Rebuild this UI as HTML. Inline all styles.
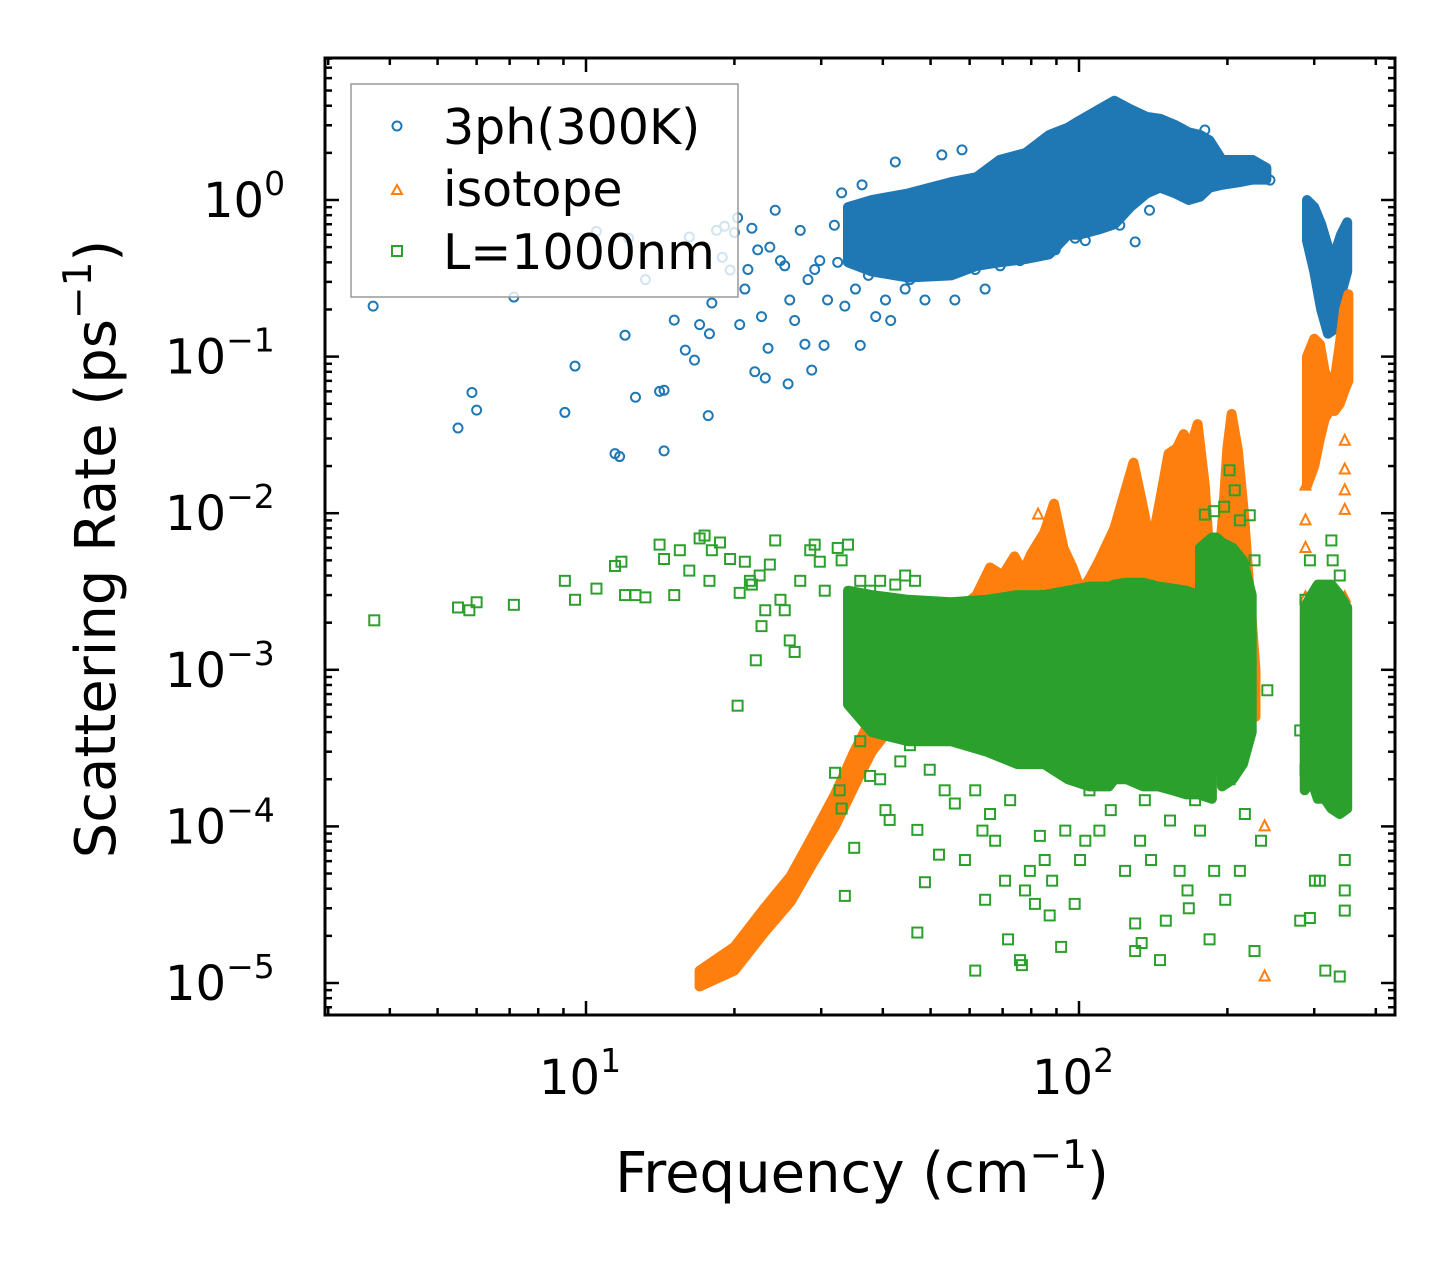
<!DOCTYPE html>
<html><head><meta charset="utf-8"><style>
html,body{margin:0;padding:0;background:#fff;}
svg{display:block;font-family:"DejaVu Sans","Liberation Sans",sans-serif;}
</style></head><body>
<svg id="chart" width="1455" height="1265" viewBox="0 0 1455 1265" xmlns="http://www.w3.org/2000/svg">
<rect width="1455" height="1265" fill="#fff"/>
<defs><clipPath id="pc"><rect x="325" y="58" width="1070" height="957"/></clipPath></defs>
<g id="marks" clip-path="url(#pc)"></g>
<g id="axes"></g>
<text x="862" y="1192" font-size="56" text-anchor="middle">Frequency (cm<tspan dy="-24" font-size="39">−1</tspan><tspan dy="24">)</tspan></text>
<text transform="translate(115,549) rotate(-90)" font-size="56" text-anchor="middle">Scattering Rate (ps<tspan dy="-24" font-size="39">−1</tspan><tspan dy="24">)</tspan></text>
<g>
<rect x="351" y="84" width="387" height="213" fill="rgba(255,255,255,0.8)" stroke="#999" stroke-width="1.5"/>
<circle cx="397" cy="126" r="4.5" fill="none" stroke="#1f77b4" stroke-width="2"/>
<text x="443" y="144" font-size="49">3ph(300K)</text>
<polygon points="397,185 402,194 392,194" fill="none" stroke="#ff7f0e" stroke-width="2"/>
<text x="443" y="206" font-size="49">isotope</text>
<rect x="392" y="246" width="10" height="10" fill="none" stroke="#2ca02c" stroke-width="2"/>
<text x="443" y="269" font-size="49">L=1000nm</text>
</g>
</svg>
<script>
// ---- data ----
const blueF=[3.7,5.5,5.87,6.0,7.14,9.06,9.5,10.5,11.45,11.7,12.0,12.2,12.6,13.2,14.1,14.4,14.4,15.1,15.9,16.2,16.6,17.0,17.7,17.8,18.0,18.4,18.9,19.1,19.6,20.0,20.3,20.5,21.0,21.3,21.7,22.0,22.3,22.7,23.1,23.4,23.6,24.2,24.8,25.3,25.7,25.9,26.5,27.2,27.8,28.2,28.7,29.1,29.8,30.4,30.9,31.9,32.4,33.0,33.5,34.3,35.2,36.0,36.3,37.4,38.7,39.5,40.5,41.5,42.4,43.4,44.4,45.4,46.5,48.7,50.3,52.7,54.7,56.0,57.9,60.2,61.6,64.5,66.5,69.2,72.5,75.9,79.5,82.6,85.8,89.5,93.8,98.2,103,108,117,121,130,139,150,157,180,184,222,244];
const blueR=[0.21,0.035,0.059,0.0455,0.24,0.044,0.087,0.63,0.024,0.023,0.137,0.57,0.055,0.31,0.06,0.061,0.025,0.171,0.11,0.58,0.095,0.16,0.042,0.14,0.22,0.64,0.43,0.68,0.357,0.62,0.77,0.16,0.27,0.36,0.66,0.08,0.48,0.18,0.073,0.113,0.5,0.86,0.41,0.38,0.067,0.23,0.17,0.64,0.12,0.31,0.082,0.36,0.41,0.118,0.23,0.69,0.40,1.11,0.21,0.8,0.27,0.118,1.25,0.33,0.18,0.48,0.23,0.17,1.75,0.52,0.27,0.31,0.41,0.23,0.55,1.94,0.55,0.23,2.09,0.41,0.36,0.27,1.44,0.38,0.44,0.41,0.86,0.48,0.62,0.48,0.69,0.57,0.55,0.69,0.8,0.69,0.54,0.86,1.34,1.55,2.8,2.09,1.67,1.34];
const blueBandF=[34,38,45,55,62,69,78,87,95,100,110,118,127,137,146,157,167,176,184,195,211,225,240];
const blueBandHi=[0.9,1.0,1.1,1.3,1.4,1.8,2.0,2.6,2.9,3.2,3.8,4.3,3.8,3.4,3.3,3.0,2.7,2.6,2.4,1.8,1.8,1.8,1.6];
const blueBandLo=[0.4,0.35,0.32,0.33,0.38,0.4,0.42,0.45,0.6,0.6,0.65,0.7,0.9,1.1,1.2,1.1,1.0,1.05,1.2,1.25,1.3,1.35,1.35];
const blueBand2F=[290,300,310,320,330,340,350];
const blueBand2Hi=[1.0,0.9,0.7,0.5,0.45,0.6,0.72];
const blueBand2Lo=[0.55,0.35,0.2,0.14,0.15,0.25,0.35];

const isoBandF=[17,20,23,26,29,32,35,38,42,45,55,62,66,70,74,77,80,85,89,93,97,101,105,110,118,125,129,134,140,146,152,158,163,168,174,180,185,190,196,200,204,210,216,222,228];
const isoBandHi=[1.2e-5,1.7e-5,3e-5,4.8e-5,9e-5,1.6e-4,3e-4,5e-4,9e-4,1.2e-3,2.2e-3,3e-3,4.5e-3,4e-3,5.3e-3,4.2e-3,5.5e-3,7.5e-3,1.15e-2,6e-3,4.5e-3,3.2e-3,3.8e-3,5e-3,8e-3,1.5e-2,2.1e-2,1.2e-2,6e-3,1.2e-2,2.4e-2,2.6e-2,3.2e-2,2.6e-2,3.7e-2,1.5e-2,4e-3,3e-3,1e-2,2.6e-2,4.3e-2,2.5e-2,1e-2,3e-3,1e-3];
const isoBandLo=[9.5e-6,1.2e-5,2.1e-5,3.3e-5,6e-5,1e-4,1.8e-4,3e-4,4.5e-4,5e-4,5e-4,5e-4,5e-4,5e-4,5e-4,5e-4,5e-4,5e-4,5e-4,5e-4,5e-4,5e-4,5e-4,5e-4,5e-4,5e-4,5e-4,5e-4,5e-4,5e-4,5e-4,5e-4,5e-4,5e-4,5e-4,5e-4,5e-4,5e-4,5e-4,5e-4,5e-4,5e-4,5e-4,5e-4,5e-4];
const isoBand2F=[290,300,308,315,322,330,338,345,352];
const isoBand2Hi=[0.1,0.13,0.12,0.08,0.07,0.07,0.12,0.2,0.25];
const isoBand2Lo=[0.015,0.02,0.03,0.04,0.045,0.045,0.05,0.06,0.07];
const isoF=[238,238,288,288,288,288,346,346,346,346,346,82.6,205];
const isoR=[1.0e-4,1.1e-5,9e-3,6e-3,2.9e-3,0.015,0.029,0.019,0.014,0.0105,2.9e-3,9.8e-3,5e-3];

const bndF=[3.72,5.5,5.8,6.0,7.14,9.06,9.5,10.5,11.45,11.8,12.0,12.6,13.2,14.1,14.4,15.1,15.5,16.2,17.0,17.4,17.8,18.0,18.7,19.6,20.3,20.5,21.0,21.5,21.7,22.1,22.5,22.7,23.1,23.6,24.2,24.8,25.3,25.9,26.5,27.2,28.5,29.1,29.8,30.5,32.4,33.0,34.0,35.2,36.0,37.7,39.5,42.4,44.4,46.5,32,33,35,33.5,41.3,47,47,52,
32.7,36.0,37.7,39.5,40.5,43.4,45.4,48.7,49.8,53.4,56,58.7,61.6,63.7,64.5,66,67.6,70.8,72.5,75.9,77.7,79.5,81.4,83.3,85.2,88.2,93.8,96.9,100.5,103,105,110,116,121,124,130,133,136,140,146,150,153,160,166,172,176,184,198,212,217,227,234,241,212,222,227,202,207,193,217,281,294,301,308,316,338,346,346,281,288,288,294,338,346,76.6,92,98,130,146,134,167,188,202,87.2,61.6,71.8,325,327,180,188,197];
const bndR=[2.07e-3,2.5e-3,2.4e-3,2.7e-3,2.6e-3,3.7e-3,2.8e-3,3.3e-3,4.6e-3,4.9e-3,3.0e-3,3.0e-3,2.9e-3,6.3e-3,5.1e-3,3.0e-3,5.8e-3,4.3e-3,6.9e-3,7.2e-3,3.7e-3,5.8e-3,6.5e-3,5.1e-3,5.9e-4,3.1e-3,4.9e-3,3.7e-3,3.5e-3,1.15e-3,4.0e-3,1.9e-3,2.4e-3,4.7e-3,6.7e-3,2.8e-3,2.4e-3,1.54e-3,1.3e-3,3.7e-3,5.8e-3,6.3e-3,4.9e-3,3.2e-3,6.0e-3,5.0e-3,6.3e-3,2.8e-3,3.7e-3,3.2e-3,3.7e-3,3.5e-3,4.0e-3,3.7e-3,2.2e-4,1.3e-4,7.3e-5,3.6e-5,1.1e-4,9.5e-5,2.1e-5,6.6e-5,
1.7e-4,3.5e-4,2.1e-4,2.0e-4,1.27e-4,2.6e-4,3.3e-4,4.4e-5,2.3e-4,1.7e-4,1.4e-4,6.1e-5,1.7e-4,9.4e-5,3.4e-5,1.2e-4,8.1e-5,4.5e-5,1.47e-4,1.4e-5,3.9e-5,5.2e-5,3.2e-5,8.7e-5,6.1e-5,4.5e-5,9.4e-5,2.5e-4,6.1e-5,8.1e-5,1.7e-4,9.4e-5,1.27e-4,2.3e-4,5.2e-5,2.4e-5,8.1e-5,1.47e-4,6.1e-5,2.3e-4,2.5e-5,1.09e-4,5.2e-5,3.9e-5,1.47e-4,9.4e-5,1.9e-5,3.4e-5,5.2e-5,1.2e-4,1.6e-5,8.1e-5,7.4e-4,9e-3,9.7e-3,5e-3,0.0188,0.014,6.4e-4,3.5e-4,2.5e-5,2.6e-5,4.5e-5,4.5e-5,1.2e-5,1.1e-5,2.9e-5,3.9e-5,4.1e-4,2.3e-4,2.8e-3,5e-3,4e-3,6.1e-5,1.3e-5,1.7e-5,3.2e-5,1.6e-5,1.4e-5,1.8e-5,3e-5,5.2e-5,2e-4,2.7e-5,1.2e-5,1.9e-5,6.7e-3,5.0e-3,9.8e-3,1.03e-2,1.1e-2];
const bndBandF=[34,38,45,55,65,75,85,95,105,115,118,125,135,145,155,165,175,186];
const bndBandHi=[3.2e-3,3.0e-3,2.8e-3,2.7e-3,2.8e-3,3.0e-3,3.0e-3,3.2e-3,3.4e-3,3.4e-3,3.5e-3,3.6e-3,3.6e-3,3.4e-3,3.3e-3,3.2e-3,3.0e-3,2.8e-3];
const bndBandLo=[6e-4,4e-4,3.5e-4,3.5e-4,3e-4,2.5e-4,2.5e-4,2e-4,1.8e-4,1.8e-4,2e-4,2e-4,1.8e-4,1.8e-4,1.7e-4,1.6e-4,1.6e-4,1.5e-4];
const bndBand2F=[176,186,190,195,205,215,224];
const bndBand2Hi=[6e-3,7e-3,7e-3,6.5e-3,6e-3,5e-3,3e-3];
const bndBand2Lo=[2.8e-3,2.8e-3,2.5e-3,1.8e-4,2e-4,2.5e-4,4e-4];
const bndBand3F=[287,296,305,315,325,338,350];
const bndBand3Hi=[2.5e-3,3e-3,3.5e-3,3.5e-3,3.5e-3,3e-3,2.5e-3];
const bndBand3Lo=[1.7e-4,2e-4,1.5e-4,1.5e-4,1.3e-4,1.2e-4,1.3e-4];

const xTickVals=[10,100];
const xTickLabels=["1","2"];
const yTickExps=[0,-1,-2,-3,-4,-5];
const yTickLabels=["0","−1","−2","−3","−4","−5"];

// ---- scales ----
const X=f=>586+(Math.log10(f)-1)*493;
const Y=r=>200-Math.log10(r)*156.6;
const NS="http://www.w3.org/2000/svg";
const marks=document.getElementById('marks');
const axes=document.getElementById('axes');
function mk(tag,attrs,parent){const e=document.createElementNS(NS,tag);for(const k in attrs)e.setAttribute(k,attrs[k]);parent.appendChild(e);return e;}

function band(F,Hi,Lo,color,name){
  const pts=[];
  for(let i=0;i<F.length;i++)pts.push(X(F[i]).toFixed(1)+','+Y(Hi[i]).toFixed(1));
  for(let i=F.length-1;i>=0;i--)pts.push(X(F[i]).toFixed(1)+','+Y(Lo[i]).toFixed(1));
  const p=mk('polygon',{points:pts.join(' '),fill:color,stroke:color,'stroke-width':10,'stroke-linejoin':'round'},marks);
  
  
}
function circles(F,R,color){
  for(let i=0;i<F.length;i++){
    const c=mk('circle',{cx:X(F[i]),cy:Y(R[i]),r:4.5,fill:'none',stroke:color,'stroke-width':2},marks);
    
    
  }
}
function tris(F,R,color){
  for(let i=0;i<F.length;i++){
    const x=X(F[i]),y=Y(R[i]);
    const t=mk('polygon',{points:`${x},${y-6} ${x+5},${y+4} ${x-5},${y+4}`,fill:'none',stroke:color,'stroke-width':2},marks);
    
    
  }
}
function squares(F,R,color){
  for(let i=0;i<F.length;i++){
    const s=mk('rect',{x:X(F[i])-5,y:Y(R[i])-5,width:10,height:10,fill:'none',stroke:color,'stroke-width':2},marks);
    
    
  }
}
const B='#1f77b4',O='#ff7f0e',G='#2ca02c';
band(blueBandF,blueBandHi,blueBandLo,B,'3ph-dense-band');
band(blueBand2F,blueBand2Hi,blueBand2Lo,B,'3ph-dense-band-high');
circles(blueF,blueR,B);
band(isoBandF,isoBandHi,isoBandLo,O,'isotope-dense-band');
band(isoBand2F,isoBand2Hi,isoBand2Lo,O,'isotope-dense-band-high');
tris(isoF,isoR,O);
band(bndBandF,bndBandHi,bndBandLo,G,'boundary-dense-band');
band(bndBand2F,bndBand2Hi,bndBand2Lo,G,'boundary-dense-band-2');
band(bndBand3F,bndBand3Hi,bndBand3Lo,G,'boundary-dense-band-3');
squares(bndF,bndR,G);

// ---- axes ----
const L=325,R=1395,T=58,Bt=1015;
const fr=mk('rect',{x:L,y:T,width:R-L,height:Bt-T,fill:'none',stroke:'#000','stroke-width':3},axes);


function tick(x1,y1,x2,y2,w){const l=mk('line',{x1,y1,x2,y2,stroke:'#000','stroke-width':w},axes);}
for(let d=0;d<3;d++){for(let m=1;m<10;m++){const f=m*Math.pow(10,d);const x=X(f);if(x<L||x>R)continue;const len=m===1?14:7;tick(x,Bt,x,Bt-len,2.5);tick(x,T,x,T+len,2.5);}}
xTickVals.forEach((v,i)=>{
  const t=mk('text',{x:X(v)-47,y:1094,'font-size':48,'text-anchor':'start'},axes);
  t.textContent='10';
  const s=mk('tspan',{dy:-22,'font-size':33},t);s.textContent=xTickLabels[i];
  
  
});
for(let e=-6;e<=0;e++){for(let m=1;m<10;m++){const r=m*Math.pow(10,e);const y=Y(r);if(y<T||y>Bt)continue;const len=m===1?14:7;tick(L,y,L+len,y,2.5);tick(R,y,R-len,y,2.5);}}
yTickExps.forEach((e,i)=>{
  const y=Y(Math.pow(10,e));
  const t=mk('text',{x:yTickLabels[i].length>1?165:203,y:y+17,'font-size':48,'text-anchor':'start'},axes);
  t.textContent='10';
  const s=mk('tspan',{dy:-22,'font-size':33},t);s.textContent=yTickLabels[i];
  
  
});
</script>
</body></html>
